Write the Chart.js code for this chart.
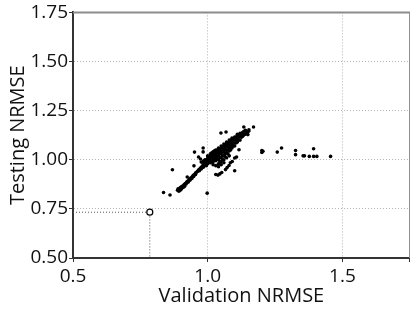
<!DOCTYPE html>
<html>
<head>
<meta charset="utf-8">
<script src="https://cdn.jsdelivr.net/npm/chart.js@4"></script>
<style>
  html, body { margin: 0; padding: 0; background: #fff; overflow: hidden; }
  canvas { display: block; }
</style>
</head>
<body>
<canvas id="myScatter" width="415" height="312"></canvas>
<script>
// validation NRMSE values (x), each with the testing NRMSE values (y) read at that x
var validation = [
  0.836, 0.860, 0.869, 0.888, 0.892, 0.893, 0.895, 0.897, 0.898, 0.900,
  0.902, 0.903, 0.905, 0.908, 0.910, 0.912, 0.915, 0.918, 0.922, 0.924,
  0.925, 0.928, 0.932, 0.935, 0.938, 0.942, 0.945, 0.948, 0.949, 0.951,
  0.952, 0.955, 0.958, 0.962, 0.965, 0.966, 0.968, 0.972, 0.973, 0.975,
  0.976, 0.978, 0.980, 0.983, 0.985, 0.988, 0.990, 0.993, 0.995, 0.998,
  1.000, 1.002, 1.005, 1.010, 1.015, 1.020, 1.025, 1.030, 1.035, 1.038,
  1.040, 1.045, 1.049, 1.050, 1.052, 1.055, 1.060, 1.065, 1.066, 1.068,
  1.070, 1.072, 1.075, 1.079, 1.080, 1.084, 1.085, 1.090, 1.091, 1.095,
  1.100, 1.105, 1.107, 1.110, 1.115, 1.116, 1.120, 1.130, 1.134, 1.140,
  1.149, 1.152, 1.153, 1.170, 1.201, 1.205, 1.258, 1.274, 1.326, 1.354,
  1.359, 1.377, 1.393, 1.405, 1.456,
  // second row of the lower tail
  0.890, 0.907, 0.913, 0.920, 0.927, 0.934, 0.941, 0.955, 0.969, 0.976,
  1.125, 1.135, 1.145
];
var testing = [
  [0.833], [0.821], [0.949], [0.845], [0.850], [0.840], [0.848], [0.856], [0.845], [0.858, 0.852],
  [0.862], [0.852], [0.860], [0.868], [0.860], [0.872], [0.876, 0.866], [0.880], [0.886], [0.912],
  [0.890], [0.893], [0.900], [0.903], [0.908], [0.912], [0.918], [0.922, 0.915], [0.969], [1.039],
  [0.926], [0.932], [0.936], [0.940], [0.946], [1.014], [0.950], [0.955], [1.004], [0.960],
  [0.988], [0.962], [0.968], [0.970, 0.962, 1.040, 1.060], [0.965, 0.975, 0.985, 0.995], [0.978],
  [0.975, 0.982, 0.990, 1.000], [0.985], [0.970, 0.980, 0.990, 1.000], [0.830, 0.992],
  [0.980, 0.990, 0.996, 1.005, 1.015, 1.020], [1.000], [0.990, 1.000, 1.002, 1.010],
  [0.985, 1.000, 1.010, 1.020, 1.030], [0.995, 1.015, 1.025, 1.035],
  [0.975, 0.990, 1.005, 1.020, 1.030, 1.040], [1.000, 1.015, 1.030, 1.045],
  [0.925, 0.970, 0.995, 1.010, 1.025, 1.040, 1.050], [1.005, 1.020, 1.035, 1.050], [0.922],
  [0.965, 0.980, 1.000, 1.020, 1.035, 1.050, 1.060], [0.928, 0.990, 1.010, 1.030, 1.045, 1.055],
  [1.136], [0.975, 0.990, 1.010, 1.030, 1.045, 1.060, 1.070], [0.935],
  [1.000, 1.020, 1.040, 1.060, 1.065], [0.985, 1.000, 1.020, 1.040, 1.055, 1.070, 1.080],
  [1.015, 1.030, 1.050, 1.065, 1.075], [0.950], [1.141],
  [1.010, 1.035, 1.050, 1.065, 1.080, 1.090], [0.960], [1.030, 1.050, 1.070, 1.085], [0.971],
  [1.020, 1.045, 1.060, 1.075, 1.090, 1.100], [0.985], [1.050, 1.070, 1.085, 1.095],
  [1.060, 1.075, 1.090, 1.100, 1.110], [0.991], [1.070, 1.085, 1.105],
  [0.944, 1.009, 1.070, 1.085, 1.100, 1.115], [1.085, 1.100, 1.115], [1.014],
  [1.090, 1.105, 1.120, 1.130], [1.100, 1.115, 1.125], [1.051], [1.100, 1.120, 1.135],
  [1.120, 1.140], [1.167], [1.130, 1.150],
  [1.128], [1.145], [1.153], [1.167], [1.037, 1.047], [1.043], [1.039], [1.060], [1.026, 1.047], [1.020],
  [1.020], [1.017], [1.017, 1.056], [1.017], [1.017],
  [0.852], [0.860], [0.868], [0.877], [0.886], [0.896], [0.905], [0.925], [0.944], [0.953],
  [1.115, 1.130], [1.128, 1.145], [1.140]
];

// the selected model
var bestValidation = 0.785;
var bestTesting = 0.733;

var xTicks = [0.5, 1.0, 1.5, 1.75];
var yTicks = [0.50, 0.75, 1.00, 1.25, 1.50, 1.75];

var points = [];
validation.forEach(function (x, i) {
  testing[i].forEach(function (y) { points.push({x: x, y: y}); });
});

var tickFont = {family: 'Open Sans', size: 19};
var titleFont = {family: 'Open Sans', size: 20};

// top and right frame lines
var frame = {
  id: 'frame',
  afterDraw: function (chart) {
    var a = chart.chartArea, c = chart.ctx;
    var right = Math.min(Math.round(a.right), 414) - 0.5;
    c.save();
    c.strokeStyle = '#8c8c8c';
    c.lineWidth = 2;
    c.beginPath(); c.moveTo(a.left, a.top); c.lineTo(right + 0.5, a.top); c.stroke();
    c.strokeStyle = '#909090';
    c.lineWidth = 1;
    c.beginPath(); c.moveTo(right, a.top); c.lineTo(right, a.bottom); c.stroke();
    c.restore();
  }
};

function gridColor(c) {
  return c.tick && c.tick.value === 1.75 ? 'rgba(0,0,0,0)' : '#b4b4b4';
}

var ctx = document.getElementById('myScatter').getContext('2d');
var chart = new Chart(ctx, {
  type: 'scatter',
  data: {
    datasets: [{
      data: [{x: bestValidation, y: bestTesting}],
      pointRadius: 3,
      pointBackgroundColor: '#fff',
      pointBorderColor: '#000',
      pointBorderWidth: 1.2,
      order: 0
    }, {
      data: points,
      pointRadius: 1.8,
      pointBorderWidth: 0,
      pointBackgroundColor: '#000',
      order: 1
    }, {
      data: [{x: 0.5, y: bestTesting}, {x: bestValidation, y: bestTesting}, {x: bestValidation, y: 0.5}],
      showLine: true,
      borderColor: '#555',
      borderWidth: 1,
      borderDash: [1, 2],
      pointRadius: 0,
      order: 2
    }]
  },
  options: {
    responsive: false,
    animation: false,
    events: [],
    layout: {padding: {top: 12, right: -2.6, left: 0, bottom: 0}},
    plugins: {legend: {display: false}, tooltip: {enabled: false}},
    scales: {
      x: {
        min: 0.5,
        max: 1.75,
        afterBuildTicks: function (s) { s.ticks = xTicks.map(function (v) { return {value: v}; }); },
        afterFit: function (s) { s.height = 54; },
        ticks: {
          font: tickFont, color: '#111', padding: 3,
          callback: function (v) { return v === 1.75 ? '' : v.toFixed(1); }
        },
        grid: {color: gridColor, tickColor: '#333', tickLength: 4},
        border: {color: '#333', width: 2, dash: [1, 2]},
        title: {display: true, text: 'Validation NRMSE', font: titleFont, color: '#111', padding: {top: 0, bottom: 4}}
      },
      y: {
        min: 0.5,
        max: 1.75,
        afterBuildTicks: function (s) { s.ticks = yTicks.map(function (v) { return {value: v}; }); },
        afterFit: function (s) { s.width = 73; },
        ticks: {
          font: tickFont, color: '#111', padding: 1,
          callback: function (v) { return v.toFixed(2); }
        },
        grid: {color: gridColor, tickColor: '#333', tickLength: 4},
        border: {color: '#333', width: 2, dash: [1, 2]},
        title: {display: true, text: 'Testing NRMSE', font: titleFont, color: '#111', padding: {top: 6, bottom: 0}}
      }
    }
  },
  plugins: [frame]
});
</script>
</body>
</html>
